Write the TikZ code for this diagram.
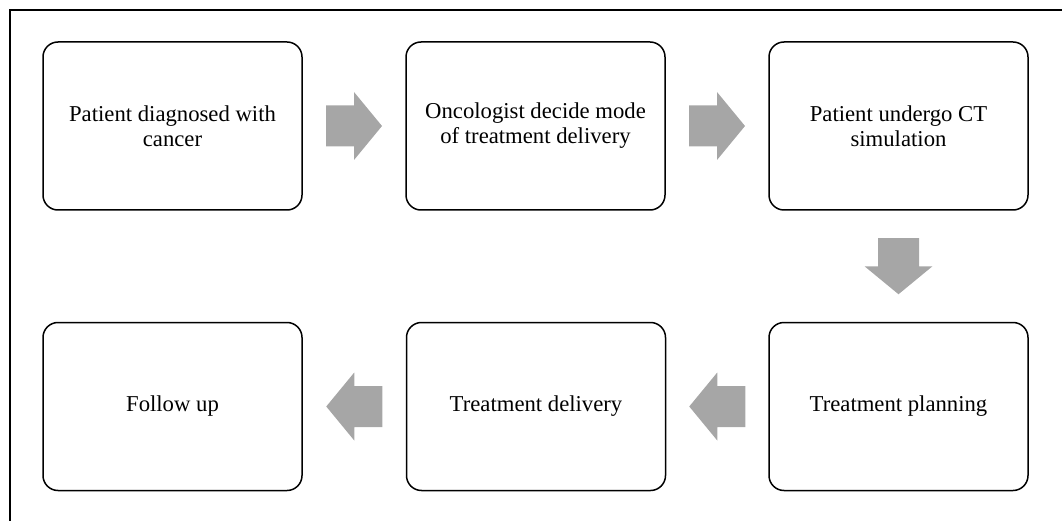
\documentclass[tikz,border=0pt]{standalone}
\usepackage{fontspec}
\setmainfont{Liberation Serif}
\usetikzlibrary{calc}
\definecolor{arrowgray}{RGB}{166,166,166}
\newcommand\flowarrow[2]{%
  \fill[arrowgray, shift={(#1)}, rotate=#2]
    (-28,-20.5) -- (0,-20.5) -- (0,-34) -- (28,0) -- (0,34) -- (0,20.5) -- (-28,20.5) -- cycle;}
\begin{document}
\begin{tikzpicture}[x=1pt,y=-1pt,
  box/.style={draw, line width=1.5pt, rounded corners=15pt, minimum width=259pt,
    minimum height=168pt, inner sep=0pt, align=center,
    font=\fontsize{22.7}{25}\selectfont}]
\useasboundingbox (0,0) rectangle (1062,521);
\draw[line width=1.5pt] (10,530) -- (10,10) -- (1070,10);
\node[box] (b1) at (172.5,126) {Patient diagnosed with\\cancer};
\node[box] (b2) at (535.5,126) {Oncologist decide mode\\of treatment delivery};
\node[box] (b3) at (898.5,126) {Patient undergo CT\\simulation};
\node[box] (b4) at (898.5,406.5) {Treatment planning};
\node[box] (b5) at (536,406.5) {Treatment delivery};
\node[box] (b6) at (172.5,406.5) {Follow up};
\coordinate (m12) at ($(b1.east)!0.5!(b2.west)$);
\coordinate (m23) at ($(b2.east)!0.5!(b3.west)$);
\coordinate (m34) at ($(b3.south)!0.5!(b4.north)$);
\coordinate (m45) at ($(b4.west)!0.5!(b5.east)$);
\coordinate (m56) at ($(b5.west)!0.5!(b6.east)$);
\flowarrow{m12}{0}
\flowarrow{m23}{0}
\flowarrow{m34}{-90}
\flowarrow{m45}{180}
\flowarrow{m56}{180}
\end{tikzpicture}
\end{document}
